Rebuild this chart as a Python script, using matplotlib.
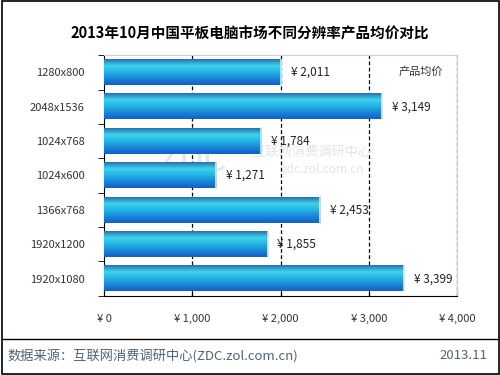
import matplotlib.pyplot as plt
import matplotlib.patches as mpatches
import numpy as np
from matplotlib.colors import LinearSegmentedColormap

plt.rcParams['font.family'] = ['Noto Sans CJK SC', 'DejaVu Sans']

resolutions = ["1280x800", "2048x1536", "1024x768", "1024x600", "1366x768", "1920x1200", "1920x1080"]
avg_price = [2011, 3149, 1784, 1271, 2453, 1855, 3399]
x_ticks = [0, 1000, 2000, 3000, 4000]
title = "2013年10月中国平板电脑市场不同分辨率产品均价对比"
source = "数据来源：互联网消费调研中心(ZDC.zol.com.cn)"
date = "2013.11"

fig = plt.figure(figsize=(5, 3.75), dpi=100)
fig.patch.set_facecolor("white")

# outer frame and footer separator
fig.add_artist(mpatches.Rectangle((0.003, 0.003), 0.994, 0.994, transform=fig.transFigure,
                                  fill=False, edgecolor="black", linewidth=1.2))
fig.add_artist(plt.Line2D([0.003, 0.997], [0.096, 0.096], transform=fig.transFigure,
                          color="black", linewidth=1.0))

fig.text(0.5, 0.912, title, ha="center", va="center", fontsize=10.5, fontweight="bold")
fig.text(0.015, 0.052, source, ha="left", va="center", fontsize=9.5, color="#4f6478")
fig.text(0.975, 0.052, date, ha="right", va="center", fontsize=9.5, color="#4f6478")

ax = fig.add_axes([0.208, 0.211, 0.706, 0.642])
ax.set_xlim(0, 4000)
ax.set_ylim(len(resolutions) - 0.5, -0.5)

# gradient used for every bar (top -> bottom)
cmap = LinearSegmentedColormap.from_list("bar", ["#2a6fb0", "#3fd3ec", "#22b4e4", "#1a86d8", "#1060c8"])
grad = np.linspace(0, 1, 64).reshape(-1, 1)
h = 0.74
for i, v in enumerate(avg_price):
    ax.imshow(grad, cmap=cmap, aspect="auto", extent=(0, v, i + h / 2, i - h / 2),
              interpolation="bilinear", zorder=3)
    ax.plot([v, v], [i - h / 2, i + h / 2], color="#b8f4fc", linewidth=1.2, zorder=4)
    ax.text(v + 110, i, "¥ " + format(v, ","), ha="left", va="center", fontsize=8.5,
            color="#222222", zorder=5)

for x in x_ticks[1:]:
    ax.axvline(x, color="black", linestyle=(0, (3, 2)), linewidth=0.9, zorder=1)

ax.text(0.96, 0.93, "产品均价", transform=ax.transAxes, ha="right", va="center",
        fontsize=8, color="#333333")

# faint watermark
ax.text(0.25, 0.56, "ZDC", transform=ax.transAxes, fontsize=26, color="#dfe6ec",
        ha="center", va="center", zorder=2)
ax.text(0.59, 0.595, "互联网消费调研中心", transform=ax.transAxes, fontsize=9.5,
        color="#dfe6ec", ha="center", va="center", zorder=2)
ax.text(0.62, 0.525, "zdc.zol.com.cn", transform=ax.transAxes, fontsize=8.5,
        color="#dfe6ec", ha="center", va="center", zorder=2)

ax.set_yticks(range(len(resolutions)))
ax.set_yticklabels(resolutions, fontsize=8, color="#333333")
ax.set_yticks(np.arange(-0.5, len(resolutions), 1), minor=True)
ax.tick_params(axis="y", which="major", length=0, pad=14)
ax.tick_params(axis="y", which="minor", length=4, direction="out", color="black")

ax.set_xticks(x_ticks)
ax.set_xticklabels(["¥ " + format(x, ",") for x in x_ticks], fontsize=8, color="#333333")
ax.tick_params(axis="x", length=5, direction="in", pad=13, color="black")

ax.spines["left"].set_color("black")
ax.spines["bottom"].set_color("black")
ax.spines["top"].set_color("#c8d0e0")
ax.spines["right"].set_color("#c8d0e0")

fig.savefig("out.png", dpi=100)
